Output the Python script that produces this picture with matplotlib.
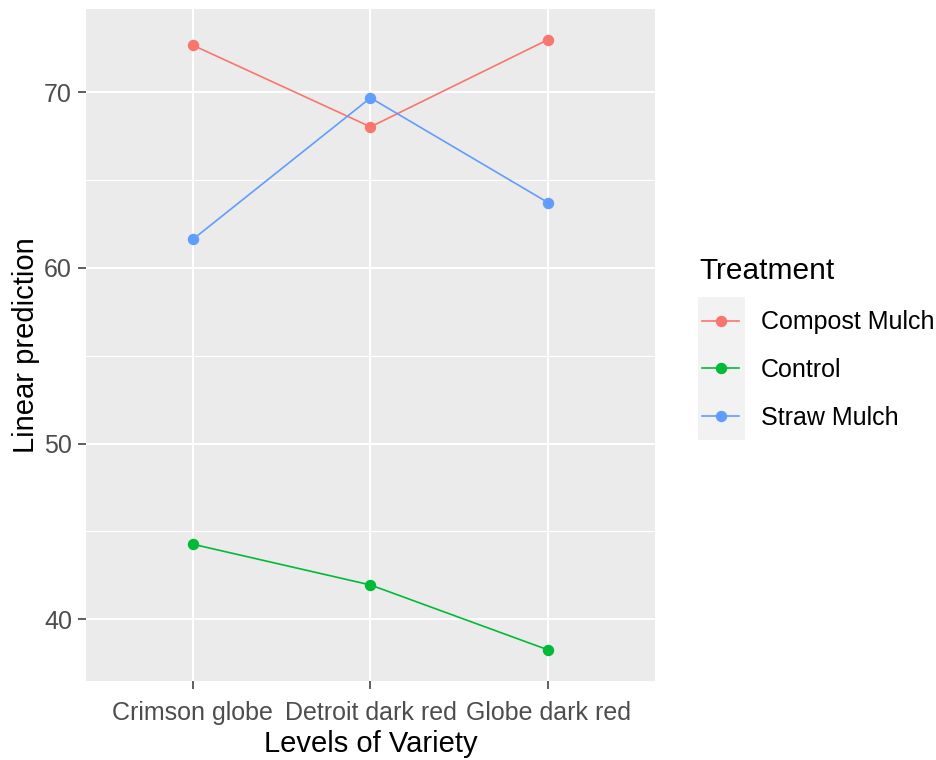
import numpy as np
import matplotlib.pyplot as plt
from matplotlib.lines import Line2D
from matplotlib.patches import Rectangle

plt.rcParams['font.family'] = ['Liberation Sans', 'DejaVu Sans']

varieties = ['Crimson globe', 'Detroit dark red', 'Globe dark red']
treatments = ['Compost Mulch', 'Control', 'Straw Mulch']
compost = [72.67, 68.02, 72.99]
control = [44.27, 41.95, 38.25]
straw = [61.61, 69.67, 63.70]
colors = ['#F8766D', '#00BA38', '#619CFF']

W, H = 937, 760
fig = plt.figure(figsize=(W / 100, H / 100), dpi=100)
ax = fig.add_axes([86 / W, 1 - 680.5 / H, (655 - 86) / W, (680.5 - 9) / H])
ax.set_facecolor('#EBEBEB')

x = np.arange(len(varieties))
for vals, col in zip([compost, control, straw], colors):
    ax.plot(x, vals, color=col, lw=1.2, marker='o', ms=7.2, zorder=3)

allv = np.concatenate([compost, control, straw])
span = allv.max() - allv.min()
ax.set_ylim(allv.min() - 0.05 * span, allv.max() + 0.05 * span)
ax.set_xlim(-0.6, len(varieties) - 0.4)

ax.set_xticks(x)
ax.set_xticklabels(varieties)
ax.set_yticks([40, 50, 60, 70])
ax.set_yticks([45, 55, 65], minor=True)
ax.grid(which='major', color='white', lw=1.5)
ax.grid(which='minor', axis='y', color='white', lw=0.8)
ax.set_axisbelow(True)
for s in ax.spines.values():
    s.set_visible(False)
ax.tick_params(which='major', length=5.5, width=1.1, color='#333333',
               labelcolor='#4D4D4D', labelsize=18)
ax.tick_params(axis='x', pad=9)
ax.tick_params(axis='y', pad=4.5)
ax.tick_params(which='minor', length=0)

ax.set_xlabel('Levels of Variety', fontsize=21, labelpad=4)
ax.set_ylabel('Linear prediction', fontsize=21, labelpad=3)

# legend
handles = [Line2D([], [], color=c, lw=1.2, marker='o', ms=7.2) for c in colors]
fig.patches.append(Rectangle((698 / W, 1 - 440 / H), 47 / W, 143 / H,
                             transform=fig.transFigure, facecolor='#F2F2F2',
                             edgecolor='none', zorder=1))
fig.text(699 / W, 1 - 271 / H, 'Treatment', fontsize=21.5, ha='left', va='center')
fig.legend(handles, treatments, loc='center left',
           bbox_to_anchor=(702 / W, 1 - 370 / H), frameon=False,
           fontsize=18, handlelength=1.5, handletextpad=0.85,
           labelspacing=0.95, borderpad=0, borderaxespad=0)

fig.savefig('out.png', dpi=100)
